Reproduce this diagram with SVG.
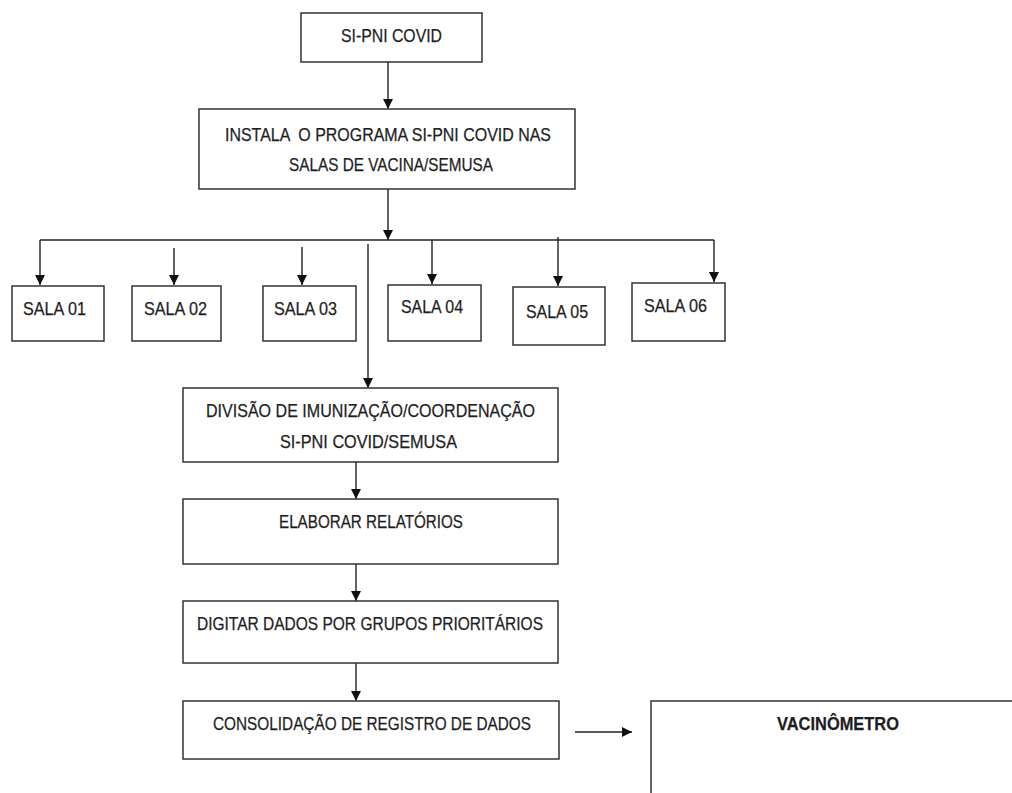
<svg xmlns="http://www.w3.org/2000/svg" width="1012" height="793" viewBox="0 0 1012 793">
<defs>
<marker id="ah" viewBox="0 0 10 10" refX="10" refY="5" markerWidth="10" markerHeight="10" markerUnits="userSpaceOnUse" orient="auto">
<path d="M0,0 L10,5 L0,10 z" fill="#111"/>
</marker>
<style>
.box{fill:#fff;stroke:#333;stroke-width:1.5}
.t{font-family:"Liberation Sans",Arial,sans-serif;font-size:19px;fill:#1e1e1e;stroke:#1e1e1e;stroke-width:0.25}
.b{font-weight:bold}
.c{fill:none;stroke:#222;stroke-width:1.4}
</style>
</defs>
<rect width="1012" height="793" fill="#fff"/>
<g id="connectors">
<line class="c" x1="388" y1="62" x2="388" y2="109" marker-end="url(#ah)"/>
<line class="c" x1="388" y1="189" x2="388" y2="240" marker-end="url(#ah)"/>
<line class="c" x1="40" y1="240" x2="714" y2="240"/>
<line class="c" x1="40" y1="240" x2="40" y2="285" marker-end="url(#ah)"/>
<line class="c" x1="174" y1="248" x2="174" y2="285" marker-end="url(#ah)"/>
<line class="c" x1="302" y1="247" x2="302" y2="285" marker-end="url(#ah)"/>
<line class="c" x1="432" y1="240" x2="432" y2="284" marker-end="url(#ah)"/>
<line class="c" x1="558" y1="237" x2="558" y2="286" marker-end="url(#ah)"/>
<line class="c" x1="714" y1="240" x2="714" y2="282" marker-end="url(#ah)"/>
<line class="c" x1="368" y1="244" x2="368" y2="388" marker-end="url(#ah)"/>
<line class="c" x1="356" y1="462" x2="356" y2="499" marker-end="url(#ah)"/>
<line class="c" x1="356" y1="564" x2="356" y2="601" marker-end="url(#ah)"/>
<line class="c" x1="356" y1="663" x2="356" y2="701" marker-end="url(#ah)"/>
<line class="c" x1="575" y1="732" x2="632" y2="732" marker-end="url(#ah)"/>
</g>
<g id="n-sipni">
<rect class="box" x="301" y="13" width="181" height="49"/>
<text class="t" x="341" y="41.5" textLength="101" lengthAdjust="spacingAndGlyphs">SI-PNI COVID</text>
</g>
<g id="n-instala">
<rect class="box" x="199" y="109" width="376" height="80"/>
<text class="t" x="225" y="141" textLength="326" lengthAdjust="spacingAndGlyphs" xml:space="preserve">INSTALA  O PROGRAMA SI-PNI COVID NAS</text>
<text class="t" x="289" y="171" textLength="204" lengthAdjust="spacingAndGlyphs">SALAS DE VACINA/SEMUSA</text>
</g>
<g id="n-sala01">
<rect class="box" x="12" y="286" width="92" height="55"/>
<text class="t" x="23" y="315" textLength="63" lengthAdjust="spacingAndGlyphs">SALA 01</text>
</g>
<g id="n-sala02">
<rect class="box" x="132" y="286" width="89" height="55"/>
<text class="t" x="144" y="315" textLength="63" lengthAdjust="spacingAndGlyphs">SALA 02</text>
</g>
<g id="n-sala03">
<rect class="box" x="263" y="286" width="93" height="55"/>
<text class="t" x="274" y="315" textLength="63" lengthAdjust="spacingAndGlyphs">SALA 03</text>
</g>
<g id="n-sala04">
<rect class="box" x="388" y="285" width="93" height="56"/>
<text class="t" x="401" y="313" textLength="62" lengthAdjust="spacingAndGlyphs">SALA 04</text>
</g>
<g id="n-sala05">
<rect class="box" x="513" y="287" width="92" height="58"/>
<text class="t" x="526" y="318" textLength="62" lengthAdjust="spacingAndGlyphs">SALA 05</text>
</g>
<g id="n-sala06">
<rect class="box" x="632" y="283" width="93" height="58"/>
<text class="t" x="644" y="312" textLength="63" lengthAdjust="spacingAndGlyphs">SALA 06</text>
</g>
<g id="n-divisao">
<rect class="box" x="183" y="388" width="375" height="74"/>
<text class="t" x="206" y="417" textLength="329" lengthAdjust="spacingAndGlyphs">DIVISÃO DE IMUNIZAÇÃO/COORDENAÇÃO</text>
<text class="t" x="280" y="448" textLength="177" lengthAdjust="spacingAndGlyphs">SI-PNI COVID/SEMUSA</text>
</g>
<g id="n-elaborar">
<rect class="box" x="183" y="499" width="375" height="65"/>
<text class="t" x="279" y="528" textLength="184" lengthAdjust="spacingAndGlyphs">ELABORAR RELATÓRIOS</text>
</g>
<g id="n-digitar">
<rect class="box" x="183" y="601" width="375" height="62"/>
<text class="t" x="197" y="630" textLength="346" lengthAdjust="spacingAndGlyphs">DIGITAR DADOS POR GRUPOS PRIORITÁRIOS</text>
</g>
<g id="n-consolidacao">
<rect class="box" x="183" y="701" width="376" height="58"/>
<text class="t" x="213" y="730" textLength="318" lengthAdjust="spacingAndGlyphs">CONSOLIDAÇÃO DE REGISTRO DE DADOS</text>
</g>
<g id="n-vacinometro">
<rect class="box" x="651" y="701" width="400" height="120"/>
<text class="t b" x="777" y="730" textLength="122" lengthAdjust="spacingAndGlyphs">VACINÔMETRO</text>
</g>
</svg>
